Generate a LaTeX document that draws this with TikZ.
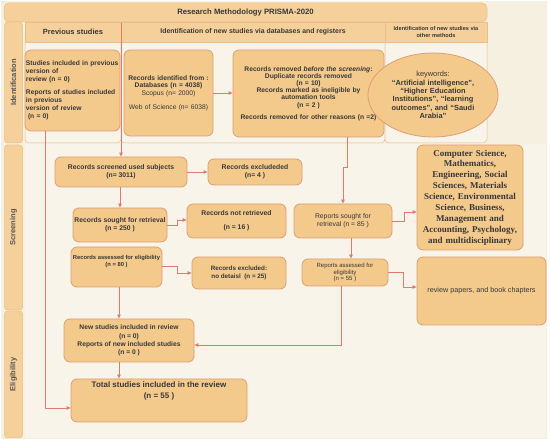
\documentclass[tikz,border=0pt]{standalone}
\usepackage{fontspec}
\setmainfont{Liberation Sans}
\newfontfamily\serifbf{Liberation Serif}
\usetikzlibrary{arrows.meta,shapes.geometric}
\definecolor{bgc}{HTML}{F5F0E0}
\definecolor{panelc}{HTML}{F8F4E9}
\definecolor{hdrc}{HTML}{F5D09A}
\definecolor{hdrd}{HTML}{E9BE8C}
\definecolor{boxc}{HTML}{F3C98C}
\definecolor{boxd}{HTML}{DE9E74}
\definecolor{arrc}{HTML}{E07C6C}
\definecolor{txtc}{HTML}{383838}
\definecolor{lanet}{HTML}{555555}
\tikzset{
  pbox/.style={draw=boxd, fill=boxc, line width=0.8pt, rounded corners=6pt, inner sep=0pt,
    align=center, text=txtc, font=\fontsize{6.8}{7.8}\selectfont\bfseries},
  hdr/.style={draw=hdrd, fill=hdrc, line width=0.5pt, inner sep=0pt, text=txtc,
    font=\fontsize{7.2}{8}\selectfont\bfseries},
  lane/.style={hdr, rounded corners=3pt, rotate=90, minimum height=18pt, text=lanet,
    font=\fontsize{7.5}{8}\selectfont\bfseries},
  panel/.style={draw=hdrd, fill=panelc, line width=0.5pt},
  conn/.style={draw=arrc, line width=0.7pt, -{Triangle[length=4pt,width=3.4pt]}},
  wire/.style={draw=arrc, line width=0.7pt}
}
\begin{document}
\begin{tikzpicture}[x=1pt,y=-1pt]
\useasboundingbox (0,0) rectangle (550,443);
\fill[white] (0,0) rectangle (550,443);
\fill[bgc] (1,1) rectangle (547,439);
\fill[panelc] (25,144) rectangle (546,438);

% identification panels
\draw[panel, rounded corners=4pt] (25,30) rectangle (121,143);
\draw[panel, rounded corners=4pt] (121,30) rectangle (385,143);
\draw[panel, rounded corners=4pt] (385,30) rectangle (487,143);

% title and headers
\node[hdr, rounded corners=5pt, minimum width=483pt, minimum height=19pt,
  font=\fontsize{7.7}{8}\selectfont\bfseries] (title) at (245.5,12.5) {Research Methodology PRISMA-2020};
\node[hdr, minimum width=96pt, minimum height=20pt, font=\fontsize{7.5}{8}\selectfont\bfseries] (hprev) at (73,32) {Previous studies};
\node[hdr, minimum width=264pt, minimum height=20pt, font=\fontsize{6.9}{8}\selectfont\bfseries] (hdb) at (253,32) {Identification of new studies via databases and registers};
\node[hdr, minimum width=102pt, minimum height=20pt, align=center, font=\fontsize{5.6}{6.6}\selectfont\bfseries] (hoth) at (436,32) {Identification of new studies via\\other methods};

% lane labels
\node[lane, minimum width=121pt] (lid) at (13.5,82.5) {Identification};
\node[lane, minimum width=165pt] (lsc) at (13.5,227.5) {Screening};
\node[lane, minimum width=127pt] (lel) at (13.5,374.5) {Eligibility};

% identification boxes
\node[pbox, minimum width=95pt, minimum height=81pt, text width=93pt, align=left,
  font=\fontsize{6.7}{8}\selectfont\bfseries] (prev) at (72.5,90.5)
  {Studies included in previous\\version of\\review (n = 0)\\[5pt]Reports of studies included\\in previous\\version of review\\\hspace*{2pt}(n = 0)};
\node[pbox, minimum width=89pt, minimum height=86pt, text width=87pt,
  font=\fontsize{6.7}{7.8}\selectfont\bfseries] (recid) at (168.5,93)
  {Records identified from :\\Databases (n = 4038)\\{\mdseries Scopus (n= 2000)}\\[6pt]{\mdseries Web of Science (n= 6038)}};
\node[pbox, minimum width=151pt, minimum height=87pt, text width=149pt,
  font=\fontsize{6.7}{7.2}\selectfont\bfseries] (removed) at (308.5,93.5)
  {Records removed \textit{before the screening}:\\Duplicate records removed\\(n = 10)\\Records marked as ineligible by\\automation tools\\(n = 2 )\\[5pt]Records removed for other reasons (n =2)};
\node[pbox, ellipse, minimum width=99pt, minimum height=84pt, text width=92pt,
  font=\fontsize{7.4}{8.3}\selectfont\bfseries] (kw) at (433,95)
  {{\mdseries keywords:}\\``Artificial intelligence'',\\``Higher Education\\Institutions'', ``learning\\outcomes'', and ``Saudi\\Arabia''};

% screening boxes
\node[pbox, minimum width=132pt, minimum height=30pt] (screened) at (121,172)
  {Records screened used subjects\\(n= 3011)};
\node[pbox, minimum width=94pt, minimum height=26pt] (excl) at (255,172)
  {Records excludeded\\(n= 4 )};
\node[pbox, minimum width=94pt, minimum height=34pt] (sought) at (120,225)
  {Records sought for retrieval\\(n = 250 )};
\node[pbox, minimum width=99pt, minimum height=34pt] (notret) at (236.5,221)
  {Records not retrieved\\[6pt](n = 16 )};
\node[pbox, minimum width=91pt, minimum height=40pt, font=\fontsize{5.8}{7}\selectfont\bfseries] (assessed) at (116.5,267)
  {\parbox[c][40pt][t]{90pt}{\centering\vspace{8pt}Records assessed for eligibility\\(n = 80 )}};
\node[pbox, minimum width=94pt, minimum height=32pt, font=\fontsize{6.3}{7.8}\selectfont\bfseries] (exclnd) at (239,273)
  {Records excluded:\\no detaisl\ \ (n = 25)};
\node[pbox, minimum width=98pt, minimum height=34pt, font=\fontsize{6.8}{7.8}\selectfont] (repsought) at (343,221)
  {Reports sought for\\retrieval (n = 85 )};
\node[pbox, minimum width=106pt, minimum height=105pt, text width=104pt,
  font=\serifbf\bfseries\fontsize{9}{10.9}\selectfont] (subj) at (470,197.5)
  {Computer Science,\\Mathematics,\\Engineering, Social\\Sciences, Materials\\Science, Environmental\\Science, Business,\\Management and\\Accounting, Psychology,\\and multidisciplinary};
\node[pbox, minimum width=86pt, minimum height=27pt, font=\fontsize{6}{6.8}\selectfont] (repassess) at (345,272.5)
  {Reports assessed for\\eligibility\\(n = 55 )};
\node[pbox, minimum width=129pt, minimum height=68pt, font=\fontsize{7.2}{8}\selectfont] (review) at (481.5,291)
  {review papers, and book chapters};

% eligibility boxes
\node[pbox, minimum width=130pt, minimum height=43pt, font=\fontsize{6.7}{8.3}\selectfont\bfseries] (newst) at (129,340.5)
  {New studies included in review\\(n = 0)\\Reports of new included studies\\(n = 0 )};
\node[pbox, minimum width=176pt, minimum height=43pt, font=\fontsize{8}{10.5}\selectfont\bfseries] (total) at (159,400.5)
  {\parbox[c][43pt][t]{170pt}{\centering\vspace{3pt}Total studies included in the review\\(n = 55 )}};

% connectors
\coordinate (divtop) at (121,23);
\draw[conn] (divtop) -- (divtop |- screened.north);
\draw[conn] (recid.east) -- (removed.west |- recid.east);
\draw[conn] (screened.east) -- (excl.west |- screened.east);
\draw[conn] (screened.south -| sought.north) -- (sought.north);
\draw[conn] (sought.east) -- ++(10,0) |- ([yshift=1pt]notret.west);
\draw[conn] ([yshift=1pt]assessed.east) -- ++(15,0) |- (exclnd.west);
\draw[conn] ([xshift=2.5pt]assessed.south) -- ([xshift=2.5pt]assessed.south |- newst.north);
\draw[conn] ([xshift=2.5pt]assessed.south |- newst.south) -- ([xshift=2.5pt]assessed.south |- total.north);
\draw[conn] ([xshift=-27.5pt]prev.south) |- ([yshift=-7.5pt]total.west);
\draw[conn] ([xshift=4pt]removed.south -| repsought.north) -- ++(0,30) -| (repsought.north);
\draw[conn] (repsought.east) -- ++(12,0) |- ([yshift=-14.5pt]subj.west);
\draw[conn] ([xshift=8pt]repsought.south) -- ([xshift=8pt]repsought.south |- repassess.north);
\draw[conn] (repassess.east) -- ++(15,0) |- ([yshift=4pt]review.west);
\draw[conn] ([xshift=-4pt]repassess.south) |- ([yshift=-4.5pt]newst.east);
\end{tikzpicture}
\end{document}
